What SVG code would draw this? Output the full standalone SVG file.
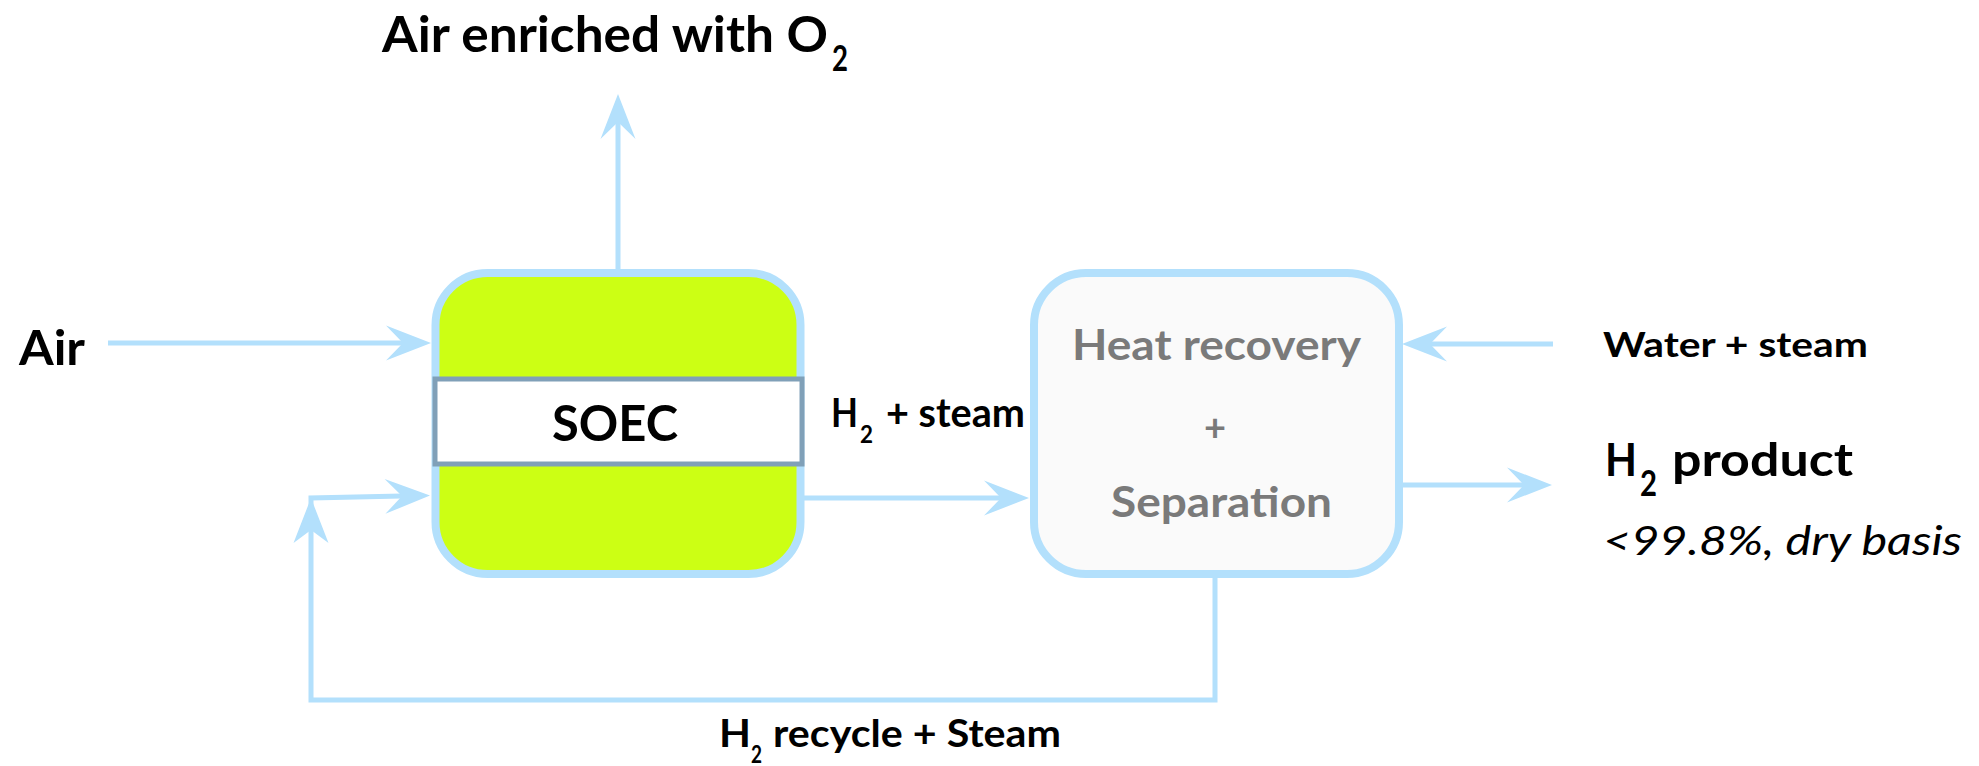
<svg xmlns="http://www.w3.org/2000/svg" width="1979" height="766" viewBox="0 0 1979 766">
<defs>
<style>
.ln{fill:none;stroke:#b3e0fc;stroke-width:5;}
.t{font-family:Lato,"Noto Sans","Liberation Sans",sans-serif;font-weight:700;fill:#000;}
.g{font-family:Lato,"Noto Sans","Liberation Sans",sans-serif;font-weight:700;fill:#7a7a7a;}
.it{font-family:Lato,"Noto Sans","Liberation Sans",sans-serif;font-style:italic;font-weight:400;fill:#000;}
.box{stroke:#b3e0fc;stroke-width:8;}
.ah{fill:#b3e0fc;}
</style>
<marker id="arr" markerUnits="userSpaceOnUse" markerWidth="60" markerHeight="40" viewBox="-20 -20 50 40" refX="0" refY="0" orient="auto" overflow="visible">
<path d="M28,0 L-17,-17.5 L0,0 L-17,17.5 Z" class="ah"/>
</marker>
</defs>
<rect width="1979" height="766" fill="#fff"/>

<g id="connectors">
<line class="ln" x1="618" y1="269" x2="618" y2="122" marker-end="url(#arr)"/>
<line class="ln" x1="108" y1="343" x2="403" y2="343" marker-end="url(#arr)"/>
<line class="ln" x1="804" y1="498" x2="1001" y2="498" marker-end="url(#arr)"/>
<line class="ln" x1="1553" y1="344" x2="1430" y2="344" marker-end="url(#arr)"/>
<line class="ln" x1="1403" y1="485" x2="1524" y2="485" marker-end="url(#arr)"/>
<polyline class="ln" points="1215,577 1215,700 311,700 311,498 402,496" marker-end="url(#arr)"/>
<path class="ah" d="M311,498 L293.5,543 L311,530 L328.5,543 Z"/>
</g>

<g id="soec">
<rect class="box" x="435.5" y="273" width="365" height="301" rx="52" fill="#ccff14"/>
<rect x="435" y="379" width="367" height="85" fill="#fff" stroke="#80a0b8" stroke-width="5"/>
<text class="t" x="552" y="441" font-size="50" textLength="126" lengthAdjust="spacingAndGlyphs">SOEC</text>
</g>

<g id="heat-recovery">
<rect class="box" x="1034" y="273" width="365" height="301" rx="52" fill="#fafafa"/>
<text class="g" x="1072" y="360" font-size="42" textLength="289" lengthAdjust="spacingAndGlyphs">Heat recovery</text>
<text class="g" x="1215" y="441" font-size="38" text-anchor="middle">+</text>
<text class="g" x="1111" y="517" font-size="42" textLength="221" lengthAdjust="spacingAndGlyphs">Separation</text>
</g>

<g id="labels">
<text class="t" x="382" y="52" font-size="50" textLength="446" lengthAdjust="spacingAndGlyphs">Air enriched with O</text>
<text class="t" x="832" y="71" font-size="36" textLength="16" lengthAdjust="spacingAndGlyphs">2</text>

<text class="t" x="19" y="365" font-size="47" textLength="66" lengthAdjust="spacingAndGlyphs">Air</text>

<text class="t" x="831" y="427" font-size="40" textLength="27" lengthAdjust="spacingAndGlyphs">H</text>
<text class="t" x="860" y="443" font-size="25" textLength="13" lengthAdjust="spacingAndGlyphs">2</text>
<text class="t" x="886" y="427" font-size="40" textLength="139" lengthAdjust="spacingAndGlyphs">+ steam</text>

<text class="t" x="1603" y="357" font-size="35" textLength="265" lengthAdjust="spacingAndGlyphs">Water + steam</text>

<text class="t" x="1605" y="476" font-size="46" textLength="32" lengthAdjust="spacingAndGlyphs">H</text>
<text class="t" x="1640" y="496" font-size="36" textLength="17" lengthAdjust="spacingAndGlyphs">2</text>
<text class="t" x="1672" y="476" font-size="46" textLength="181" lengthAdjust="spacingAndGlyphs">product</text>

<text class="it" x="1603" y="555" font-size="40" textLength="359" lengthAdjust="spacingAndGlyphs">&lt;99.8%, dry basis</text>

<text class="t" x="719" y="747" font-size="38" textLength="32" lengthAdjust="spacingAndGlyphs">H</text>
<text class="t" x="751" y="763" font-size="24" textLength="11" lengthAdjust="spacingAndGlyphs">2</text>
<text class="t" x="773" y="747" font-size="38" textLength="288" lengthAdjust="spacingAndGlyphs">recycle + Steam</text>
</g>
</svg>
